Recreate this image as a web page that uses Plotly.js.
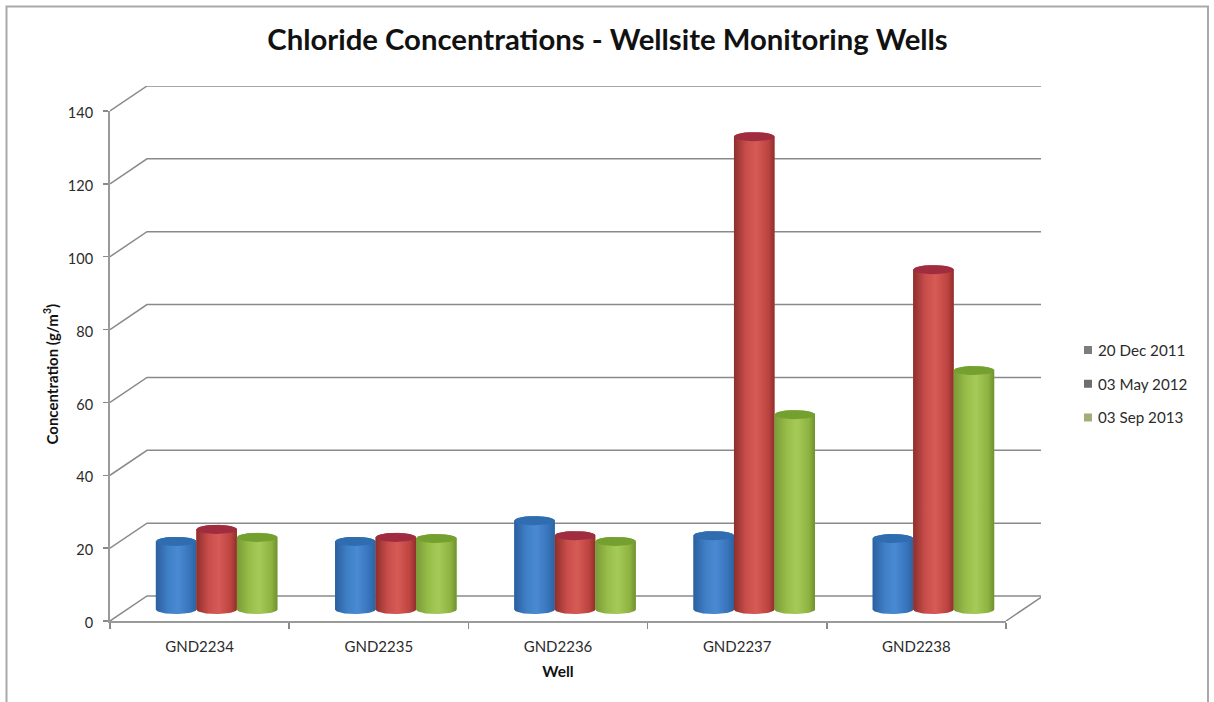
<!DOCTYPE html>
<html>
<head>
<meta charset="utf-8">
<script src="https://cdn.plot.ly/plotly-3.0.1.min.js"></script>
<style>html,body{margin:0;padding:0;background:#fff}#chart{width:1214px;height:702px}</style>
</head>
<body>
<div id="chart"></div>
<script>
// Chloride results per well, one list per sampling round (g/m3)
const wells = ["GND2234", "GND2235", "GND2236", "GND2237", "GND2238"];
const dec2011 = [18.7, 18.7, 24.4, 20.3, 19.5];
const may2012 = [22, 19.8, 20.3, 129.8, 93.3];
const sep2013 = [19.8, 19.5, 18.7, 53.5, 65.6];
const seriesNames = ["20 Dec 2011", "03 May 2012", "03 Sep 2013"];
const yTicks = [0, 20, 40, 60, 80, 100, 120, 140];

const seriesValues = [dec2011, may2012, sep2013];
const bodyRamps = [
  [[0, "#2b5f9e"], [0.3, "#3f7fc6"], [0.55, "#4a8ad2"], [0.85, "#3673ba"], [1, "#2d639f"]],
  [[0, "#8e2f2c"], [0.3, "#c94d4a"], [0.55, "#d65b56"], [0.85, "#bd4340"], [1, "#8f2f2c"]],
  [[0, "#7a9a38"], [0.3, "#97bd49"], [0.55, "#a6ca58"], [0.85, "#8fb340"], [1, "#6f9130"]]
];
const capColours = ["#2f6cb0", "#a02c40", "#74a030"];
const flatColours = ["#3f7fc6", "#c94d4a", "#97bd49"];
const legendColours = ["#7d7d7d", "#6e6e6e", "#a3ad78"];

// Projection of the box: how far the back wall sits behind the front plane, in axis units
const pxPerWell = 179.2, pxPerUnit = 3.643;
const depthX = 37 / pxPerWell, depthY = 25 / pxPerUnit;
const frontW = 896, frontH = 510, fullW = 931, fullH = 535;
const barW = 0.226, capRy = 1.25, baseLift = 3.15, depthShift = 0.095;
const STEPS = 28;

const traces = [];

// Back wall gridlines with their diagonal returns to the front axis
const gridX = [], gridY = [];
yTicks.forEach(v => {
  gridX.push(-0.5, -0.5 + depthX, 4.5 + depthX, null);
  gridY.push(v, v + depthY, v + depthY, null);
});
gridX.push(4.5, 4.5 + depthX, null);
gridY.push(0, depthY, null);
traces.push({
  type: "scatter", mode: "lines", x: gridX, y: gridY, xaxis: "x", yaxis: "y",
  line: { color: "#8a8a8a", width: 1.5 }, showlegend: false, hoverinfo: "skip"
});

// Plain bars carry the values; the cylinder shading sits on top of them
seriesNames.forEach((name, s) => {
  traces.push({
    type: "bar", name: name, showlegend: false,
    x: wells.map((_, i) => i + depthShift), y: seriesValues[s],
    base: wells.map(() => baseLift), xaxis: "x2", yaxis: "y2",
    marker: { color: flatColours[s], line: { width: 0 } }
  });
});

function arc(cx, cy, rx, ry, from, to) {
  const xs = [], ys = [];
  for (let k = 0; k <= STEPS; k++) {
    const a = from + (to - from) * k / STEPS;
    xs.push(cx + rx * Math.cos(a));
    ys.push(cy + ry * Math.sin(a));
  }
  return [xs, ys];
}

// Cylinder body and cap for each bar
seriesNames.forEach((name, s) => {
  const capX = [], capY = [];
  seriesValues[s].forEach((v, i) => {
    const cx = i + depthShift + (s - 1) * barW;
    const top = baseLift + v;
    const low = arc(cx, baseLift, barW / 2, capRy, Math.PI, 2 * Math.PI);
    const high = arc(cx, top, barW / 2, capRy, 0, Math.PI);
    traces.push({
      type: "scatter", mode: "lines", fill: "toself", xaxis: "x2", yaxis: "y2",
      x: low[0].concat(high[0], [low[0][0]]), y: low[1].concat(high[1], [low[1][0]]),
      line: { width: 0 },
      fillgradient: { type: "horizontal", colorscale: bodyRamps[s], start: cx - barW / 2, stop: cx + barW / 2 },
      showlegend: false, hoverinfo: "skip"
    });
    const ring = arc(cx, top, barW / 2, capRy, 0, 2 * Math.PI);
    capX.push(...ring[0], null);
    capY.push(...ring[1], null);
  });
  traces.push({
    type: "scatter", mode: "lines", fill: "toself", xaxis: "x2", yaxis: "y2",
    x: capX, y: capY, line: { width: 0 }, fillcolor: capColours[s],
    showlegend: false, hoverinfo: "skip"
  });
});

// Legend entries
seriesNames.forEach((name, s) => {
  traces.push({
    type: "scatter", mode: "markers", name: name, legendgroup: name,
    x: [null], y: [null], xaxis: "x2", yaxis: "y2",
    marker: { symbol: "square", size: 8, color: legendColours[s] }
  });
});

const textColour = "#2b2b2b";
const layout = {
  width: 1214, height: 702,
  paper_bgcolor: "#fff", plot_bgcolor: "rgba(0,0,0,0)",
  margin: { l: 110, r: 173, t: 86, b: 81, autoexpand: false },
  font: { family: "Lato, sans-serif", color: textColour, size: 14 },
  title: {
    text: "<b>Chloride Concentrations - Wellsite Monitoring Wells</b>",
    font: { family: "Lato, sans-serif", size: 29.3, color: "#111" },
    x: 607.5 / 1214, xanchor: "center", y: 1 - 40 / 702, yanchor: "middle"
  },
  barmode: "group", bargap: 1 - 3 * barW, bargroupgap: 0,
  xaxis: { visible: false, range: [-0.5, -0.5 + fullW / pxPerWell], domain: [0, 1], fixedrange: true },
  yaxis: { visible: false, range: [0, fullH / pxPerUnit], domain: [0, 1], fixedrange: true },
  xaxis2: {
    anchor: "y2", domain: [0, frontW / fullW], range: [-0.5, 4.5],
    tickmode: "array", tickvals: wells.map((_, i) => i), ticktext: wells,
    ticks: "", showgrid: false, zeroline: false,
    showline: true, linecolor: "#9a9a9a", linewidth: 2,
    ticklabelstandoff: 11, tickfont: { size: 15, color: textColour },
    minor: { tickmode: "array", tickvals: [-0.5, 0.5, 1.5, 2.5, 3.5, 4.5], ticks: "outside", ticklen: 6, tickcolor: "#8a8a8a", tickwidth: 1.5, showgrid: false },
    title: { text: "<b>Well</b>", standoff: 12, font: { size: 15.5, color: "#111" } }
  },
  yaxis2: {
    anchor: "x2", domain: [0, frontH / fullH], range: [0, 140],
    tickmode: "array", tickvals: yTicks,
    ticks: "outside", ticklen: 5, tickcolor: "#8a8a8a", tickwidth: 1.5,
    showgrid: false, zeroline: false,
    showline: true, linecolor: "#9a9a9a", linewidth: 2,
    ticklabelstandoff: 7, ticklabelshift: 2, tickfont: { size: 14.5, color: textColour }
  },
  // Rotated title for the value axis, centred on the readable part of the scale
  annotations: [{
    text: "<b>Concentration (g/m<sup>3</sup>)</b>", textangle: -90, showarrow: false,
    xref: "paper", yref: "paper", xanchor: "center", yanchor: "middle",
    x: (50.5 - 110) / fullW, y: (621 - 374) / fullH,
    font: { size: 15, color: "#111" }
  }],
  showlegend: true,
  legend: {
    x: (1058 - 110) / fullW, xanchor: "left", y: (621 - 384) / fullH, yanchor: "middle",
    tracegroupgap: 11, bgcolor: "rgba(0,0,0,0)",
    font: { size: 15.2, color: textColour }
  },
  shapes: [{
    type: "rect", xref: "paper", yref: "paper", layer: "below",
    x0: (6.5 - 110) / fullW, x1: (1208 - 110) / fullW,
    y0: (621 - 730) / fullH, y1: (621 - 6.5) / fullH,
    line: { color: "#a9a9a9", width: 2 }
  }]
};

Plotly.newPlot("chart", traces, layout, { staticPlot: true, displayModeBar: false }).then(() => {
  // Tuck the legend swatches in closer to their labels
  document.querySelectorAll("#chart .legend .legendpoints").forEach(g => g.setAttribute("transform", "translate(10,0)"));
});
</script>
</body>
</html>
